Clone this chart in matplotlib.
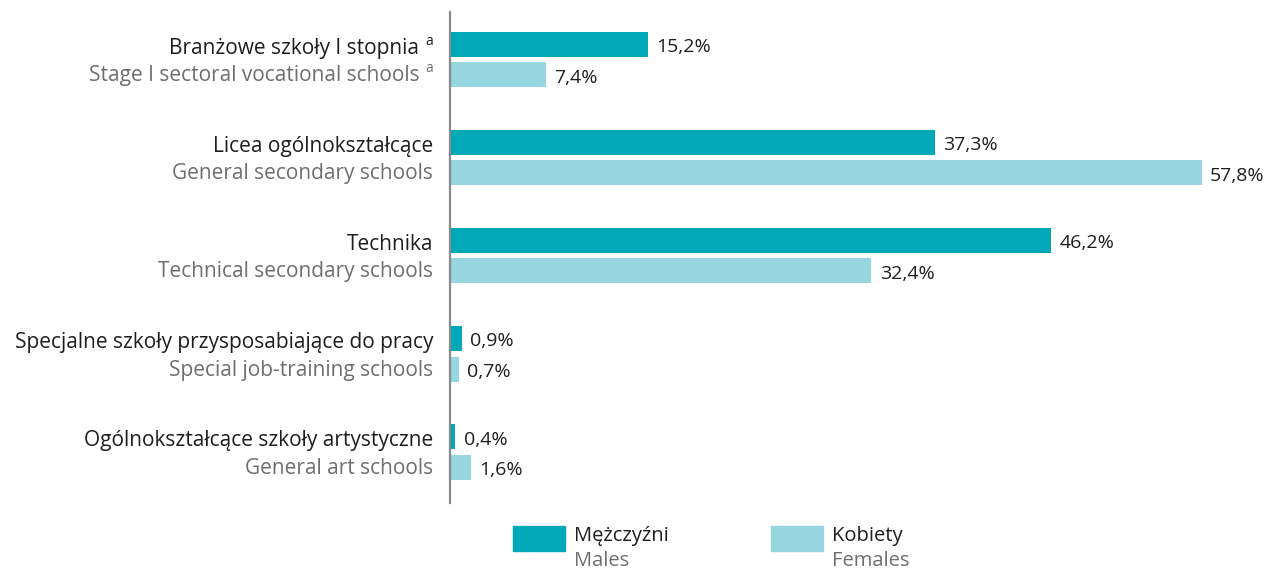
import matplotlib.pyplot as plt
from matplotlib.patches import Rectangle
import numpy as np

plt.rcParams['font.family'] = ['Open Sans', 'DejaVu Sans']

# data
labels_pl = ['Branżowe szkoły I stopnia', 'Licea ogólnokształcące', 'Technika',
             'Specjalne szkoły przysposabiające do pracy',
             'Ogólnokształcące szkoły artystyczne']
labels_en = ['Stage I sectoral vocational schools', 'General secondary schools',
             'Technical secondary schools', 'Special job-training schools',
             'General art schools']
footnote = [True, False, False, False, False]
males = [15.2, 37.3, 46.2, 0.9, 0.4]
females = [7.4, 57.8, 32.4, 0.7, 1.6]
series_pl = ['Mężczyźni', 'Kobiety']
series_en = ['Males', 'Females']

c_m = '#00a8b8'
c_f = '#95d6e0'
dark = '#1e1e1e'
grey = '#6e6e6e'

fig = plt.figure(figsize=(12.66, 5.69), dpi=100)
ax = fig.add_axes([450/1266, 1-503/569, 800/1266, 491/569])

y = np.arange(len(males))
h = 0.255
off = 0.155
ax.barh(y - off, males, height=h, color=c_m)
ax.barh(y + off, females, height=h, color=c_f)

ax.set_xlim(0, 61.5)
ax.set_ylim(4.52, -0.485)
for s in ['top', 'right', 'bottom']:
    ax.spines[s].set_visible(False)
ax.spines['left'].set_color('#8a8a8a')
ax.spines['left'].set_linewidth(1.6)
ax.set_xticks([])
ax.set_yticks([])

def fmt(v):
    return ('%.1f%%' % v).replace('.', ',')

for i in range(len(males)):
    ax.annotate(fmt(males[i]), (males[i], y[i] - off), xytext=(6, -2),
                textcoords='offset points', va='center', ha='left',
                fontsize=14, color=dark)
    ax.annotate(fmt(females[i]), (females[i], y[i] + off), xytext=(6, -2),
                textcoords='offset points', va='center', ha='left',
                fontsize=14, color=dark)
    shift = -10 if footnote[i] else 0
    ax.annotate(labels_pl[i], (0, y[i] - off + 0.04), xytext=(-12 + shift, 0),
                textcoords='offset points', va='center', ha='right',
                fontsize=15, color=dark)
    ax.annotate(labels_en[i], (0, y[i] + off + 0.01), xytext=(-12 + shift, 0),
                textcoords='offset points', va='center', ha='right',
                fontsize=15, color=grey)
    if footnote[i]:
        ax.annotate('a', (0, y[i] - off + 0.04), xytext=(-12, 5),
                    textcoords='offset points', va='center', ha='right',
                    fontsize=10, color=dark)
        ax.annotate('a', (0, y[i] + off + 0.01), xytext=(-12, 5),
                    textcoords='offset points', va='center', ha='right',
                    fontsize=10, color=grey)

# legend
W, H = 1266, 569
for k, (col, x0) in enumerate([(c_m, 513), (c_f, 771)]):
    fig.patches.append(Rectangle((x0/W, 1-551/H), 52/W, 25/H, color=col,
                                 transform=fig.transFigure))
    fig.text((x0+61)/W, 1-536/H, series_pl[k], fontsize=14.5, color=dark,
             va='center', ha='left')
    fig.text((x0+61)/W, 1-561/H, series_en[k], fontsize=14.5, color=grey,
             va='center', ha='left')

fig.savefig('out.png', dpi=100)
